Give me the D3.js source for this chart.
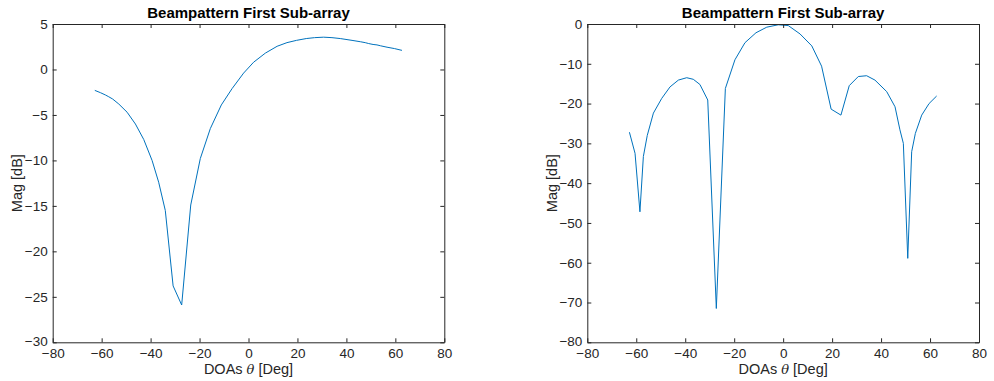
<!DOCTYPE html>
<html>
<head>
<meta charset="utf-8">
<script src="https://cdn.jsdelivr.net/npm/d3@7"></script>
<style>
  html, body { margin: 0; padding: 0; background: #fff; }
  svg { display: block; font-family: "Liberation Sans", Arial, Helvetica, sans-serif; }
</style>
</head>
<body>
<svg id="chart" width="994" height="381"></svg>
<script>
// Direction-of-arrival sample grid (degrees)
const doas = [-62.8, -60.5, -58.5, -57.1, -55.5, -53.0, -49.6, -46.2, -42.8, -39.4,
              -36.7, -34.0, -30.8, -27.3, -23.6, -19.7, -15.6, -11.1, -6.7, -2.0,
              2.1, 6.9, 11.7, 15.7, 19.6, 23.6, 27.0, 30.7, 34.1, 37.5,
              42.3, 45.7, 47.7, 49.1, 50.9, 52.5, 54.0, 56.6, 59.6, 62.7];

// Beampattern magnitude, left panel (dB)
const magLeft = [-2.3, -2.55, -2.8, -3.0, -3.25, -3.8, -4.7, -6.0, -7.7, -10.0,
                 -12.4, -15.5, -23.8, -25.9, -14.9, -9.8, -6.5, -3.9, -2.1, -0.4,
                 0.8, 1.8, 2.55, 2.95, 3.2, 3.4, 3.5, 3.55, 3.5, 3.4,
                 3.2, 3.05, 2.95, 2.85, 2.75, 2.7, 2.6, 2.45, 2.3, 2.1];

// Beampattern magnitude, right panel (dB)
const magRight = [-27.2, -32.5, -47.2, -33.3, -28.0, -22.4, -18.7, -15.8, -14.1, -13.5,
                  -13.9, -15.2, -19.1, -71.5, -16.2, -9.0, -4.7, -2.2, -0.8, -0.2,
                  -0.4, -2.5, -5.5, -10.6, -21.4, -22.9, -15.5, -13.2, -13.0, -14.1,
                  -17.0, -20.8, -26.6, -30.0, -58.9, -32.1, -27.5, -22.9, -20.0, -18.1];

const xTicks = [-80, -60, -40, -20, 0, 20, 40, 60, 80];
const yTicksLeft = [5, 0, -5, -10, -15, -20, -25, -30];
const yTicksRight = [0, -10, -20, -30, -40, -50, -60, -70, -80];

const titleText = "Beampattern First Sub-array";
const yLabelText = "Mag [dB]";

const svg = d3.select("#chart");
const axisColor = "#262626";
const lineColor = "#0072BD";

function panel(opts) {
  const { left, right, top, bottom, yDomain, yTicks, values, yLabelX } = opts;
  const x = d3.scaleLinear().domain([-80, 80]).range([left, right]);
  const y = d3.scaleLinear().domain(yDomain).range([bottom, top]);
  const g = svg.append("g");
  const tickLen = 4;

  // data line
  const line = d3.line().x((d, i) => x(doas[i])).y(d => y(d));
  g.append("path")
    .datum(values)
    .attr("d", line)
    .attr("fill", "none")
    .attr("stroke", lineColor)
    .attr("stroke-width", 1)
    .attr("stroke-linejoin", "miter");

  // axes: bottom and left with inward ticks, plus mirrored ticks on top/right
  const xAxis = d3.axisBottom(x).tickValues(xTicks).tickSizeInner(-tickLen).tickSizeOuter(0).tickPadding(6);
  const xAxisTop = d3.axisTop(x).tickValues(xTicks).tickSizeInner(-tickLen).tickSizeOuter(0).tickFormat("");
  const yAxis = d3.axisLeft(y).tickValues(yTicks).tickSizeInner(-tickLen).tickSizeOuter(0).tickPadding(5);
  const yAxisRight = d3.axisRight(y).tickValues(yTicks).tickSizeInner(-tickLen).tickSizeOuter(0).tickFormat("");

  const axes = [
    g.append("g").attr("transform", `translate(0,${bottom})`).call(xAxis),
    g.append("g").attr("transform", `translate(0,${top})`).call(xAxisTop),
    g.append("g").attr("transform", `translate(${left},0)`).call(yAxis),
    g.append("g").attr("transform", `translate(${right},0)`).call(yAxisRight)
  ];
  axes.forEach(a => {
    a.selectAll(".domain").attr("stroke", axisColor).attr("stroke-width", 1);
    a.selectAll(".tick line").attr("stroke", axisColor).attr("stroke-width", 1);
    a.selectAll(".tick text").attr("fill", axisColor).style("font-size", "13.5px")
      .style("font-family", '"Liberation Sans", Arial, sans-serif');
  });
  // nudge the lowest y tick label up a little so it clears the first x tick label
  axes[2].selectAll(".tick text").filter(d => d === yDomain[0]).attr("dy", "0.2em");

  // title
  g.append("text")
    .attr("x", (left + right) / 2).attr("y", 17.5)
    .attr("text-anchor", "middle")
    .style("font-size", "15px").style("font-weight", "bold")
    .attr("fill", "#000")
    .text(titleText);

  // x label with italic theta
  const xl = g.append("text")
    .attr("x", (left + right) / 2).attr("y", 374)
    .attr("text-anchor", "middle")
    .style("font-size", "14.5px")
    .attr("fill", axisColor);
  xl.append("tspan").text("DOAs ");
  xl.append("tspan").style("font-style", "italic").style("font-family", '"DejaVu Serif", "Liberation Serif", serif').style("font-size", "13px").text("θ");
  xl.append("tspan").text(" [Deg]");

  // y label
  g.append("text")
    .attr("transform", `translate(${yLabelX},${(top + bottom) / 2}) rotate(-90)`)
    .attr("text-anchor", "middle")
    .style("font-size", "14.5px")
    .attr("fill", axisColor)
    .text(yLabelText);
}

panel({ left: 52.7, right: 444.3, top: 24, bottom: 342.3, yDomain: [-30, 5],
        yTicks: yTicksLeft, values: magLeft, yLabelX: 22 });
panel({ left: 587.3, right: 979, top: 24, bottom: 342.3, yDomain: [-80, 0],
        yTicks: yTicksRight, values: magRight, yLabelX: 557 });
</script>
</body>
</html>
